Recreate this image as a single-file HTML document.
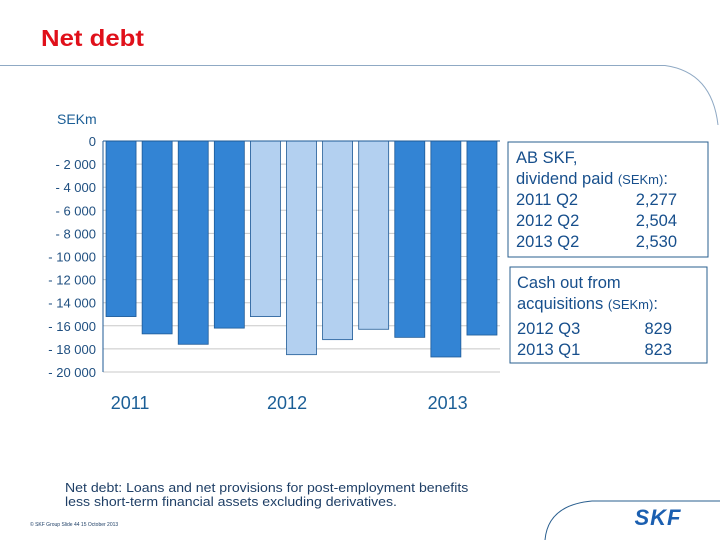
<!DOCTYPE html>
<html><head><meta charset="utf-8"><style>
body{margin:0;background:#fff;}
#root{position:relative;width:720px;height:540px;overflow:hidden;font-family:"Liberation Sans",sans-serif;}
svg text{font-family:"Liberation Sans",sans-serif;}
</style></head><body>
<div id="root">
<svg id="chart" width="720" height="540">
 <text x="41" y="46" font-size="23" font-weight="bold" fill="#e0101a" transform="translate(41 0) scale(1.12 1) translate(-41 0)">Net debt</text>
 <path d="M0 65.5 H665 Q712 72 718 125" fill="none" stroke="#8fa9c4" stroke-width="1"/>
 <path d="M545 540 Q548 505 592 501 H720" fill="none" stroke="#2a5f8f" stroke-width="1"/>
 <text x="57" y="124" font-size="14" fill="#1b5e96">SEKm</text>
 <g id="grid"></g><g id="bars"></g><g id="axis"></g>
 <rect x="508" y="142" width="200" height="115" fill="none" stroke="#2a5f8f"/>
 <g font-size="16.5" fill="#174f8c">
  <text x="516" y="163">AB SKF,</text>
  <text x="516" y="184">dividend paid <tspan font-size="13">(SEKm)</tspan>:</text>
  <text x="516" y="205">2011 Q2</text><text x="677" y="205" text-anchor="end">2,277</text>
  <text x="516" y="226">2012 Q2</text><text x="677" y="226" text-anchor="end">2,504</text>
  <text x="516" y="247">2013 Q2</text><text x="677" y="247" text-anchor="end">2,530</text>
 </g>
 <rect x="510" y="267" width="197" height="96" fill="none" stroke="#2a5f8f"/>
 <g font-size="16.5" fill="#174f8c">
  <text x="517" y="288">Cash out from</text>
  <text x="517" y="309">acquisitions <tspan font-size="13">(SEKm)</tspan>:</text>
  <text x="517" y="334">2012 Q3</text><text x="672" y="334" text-anchor="end">829</text>
  <text x="517" y="355">2013 Q1</text><text x="672" y="355" text-anchor="end">823</text>
 </g>
 <g font-size="13" fill="#1f3f66" transform="translate(65 0) scale(1.085 1) translate(-65 0)">
  <text x="65" y="492">Net debt:  Loans and net provisions for post-employment benefits</text>
  <text x="65" y="506">less short-term financial assets excluding derivatives.</text>
 </g>
 <text x="30" y="526" font-size="5" fill="#1f3f66">© SKF Group     Slide 44      15 October 2013</text>
 <text x="658" y="525" font-size="22" font-weight="bold" font-style="italic" fill="#1b5fb0" text-anchor="middle" letter-spacing="1">SKF</text>
</svg>
</div>
<script>
const categories=["2011 Q1","2011 Q2","2011 Q3","2011 Q4","2012 Q1","2012 Q2","2012 Q3","2012 Q4","2013 Q1","2013 Q2","2013 Q3"];
const values=[-15200,-16700,-17600,-16200,-15200,-18500,-17200,-16300,-17000,-18700,-16800];
const yearFlags=[0,0,0,0,1,1,1,1,0,0,0];
const yTicks=[0,-2000,-4000,-6000,-8000,-10000,-12000,-14000,-16000,-18000,-20000];
const yTickLabels=["0","- 2 000","- 4 000","- 6 000","- 8 000","- 10 000","- 12 000","- 14 000","- 16 000","- 18 000","- 20 000"];
const years=["2011","2012","2013"];
const yearCenters=[0.25,4.6,9.05];
const NS="http://www.w3.org/2000/svg";
const X0=103,X1=500,Y0=141,Y1=372;
const slot=(X1-X0)/categories.length;
const y=v=>Y0+(v/-20000)*(Y1-Y0);
const x=i=>X0+slot*i+slot/2;
function mk(tag,a,p){const e=document.createElementNS(NS,tag);for(const k in a)e.setAttribute(k,a[k]);p.appendChild(e);return e;}
const grid=document.getElementById('grid'),bars=document.getElementById('bars'),axis=document.getElementById('axis');
yTicks.forEach((t,i)=>{
 const l=mk('line',{x1:X0,x2:X1,y1:y(t),y2:y(t),stroke:'#c8c8c8','stroke-width':1},grid);
 
 
 const tx=mk('text',{x:96,y:y(t)+5,'text-anchor':'end','font-size':13,fill:'#1f4f80'},axis);
 tx.textContent=yTickLabels[i];
 
 
});
values.forEach((v,i)=>{
 const r=mk('rect',{x:x(i)-15,y:Y0,width:30,height:y(v)-Y0,fill:yearFlags[i]?'#b3d0f0':'#3384d4',stroke:'#1e5a96','stroke-width':0.8},bars);
 
 
});
const ax=mk('line',{x1:X0,x2:X0,y1:Y0,y2:Y1,stroke:'#1e5a96'},axis);


const bx=mk('line',{x1:X0,x2:X1,y1:Y0,y2:Y0,stroke:'#1e5a96'},axis);


years.forEach((yr,i)=>{
 const t=mk('text',{x:x(yearCenters[i]),y:409,'text-anchor':'middle','font-size':18,fill:'#1b5e96'},axis);
 t.textContent=yr;
 
 
});
</script>
</body></html>
